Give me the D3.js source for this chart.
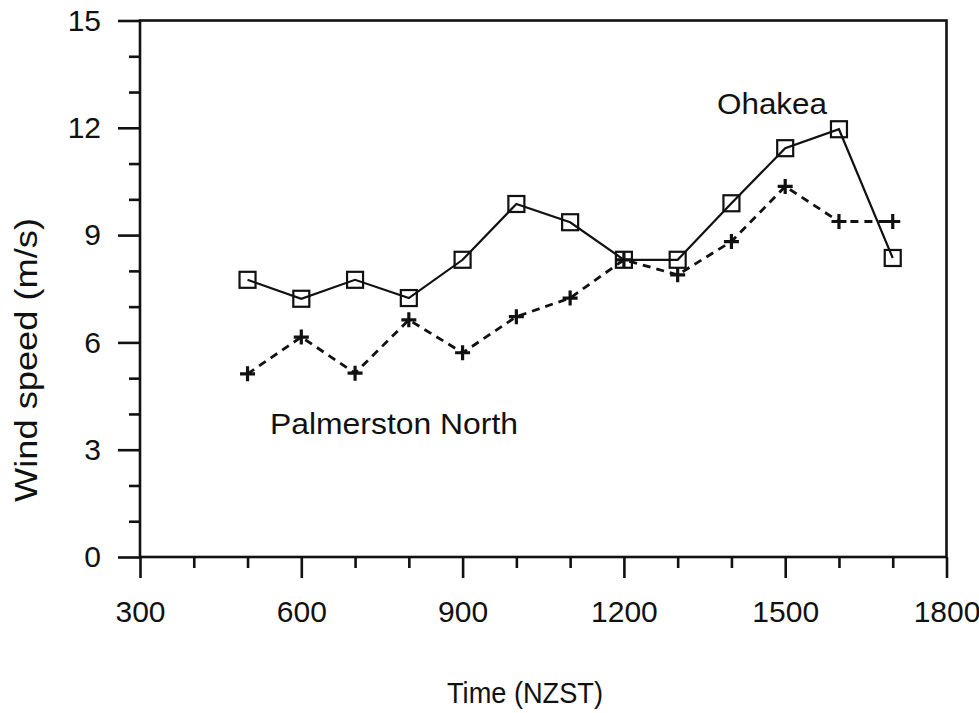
<!DOCTYPE html>
<html>
<head>
<meta charset="utf-8">
<script src="https://cdn.jsdelivr.net/npm/d3@7"></script>
<style>
  html, body { margin: 0; padding: 0; background: #fff; }
  svg { display: block; }
  text { font-family: "Liberation Sans", Arial, Helvetica, sans-serif; fill: #111; }
</style>
</head>
<body>
<svg id="chart" width="979" height="713"></svg>
<script>
// ---- data ----
const times = [500, 600, 700, 800, 900, 1000, 1100, 1200, 1300, 1400, 1500, 1600, 1700];
const ohakea = [7.75, 7.22, 7.75, 7.24, 8.31, 9.87, 9.36, 8.31, 8.31, 9.89, 11.43, 11.96, 8.36];
const palmerstonNorth = [5.12, 6.15, 5.14, 6.63, 5.71, 6.72, 7.24, 8.31, 7.89, 8.82, 10.36, 9.38, 9.38];
const xMajorTicks = [300, 600, 900, 1200, 1500, 1800];
const xMinorTicks = [400, 500, 700, 800, 1000, 1100, 1300, 1400, 1600, 1700];
const yMajorTicks = [0, 3, 6, 9, 12, 15];
const yMinorTicks = [1, 2, 4, 5, 7, 8, 10, 11, 13, 14];
const seriesLabels = ["Ohakea", "Palmerston North"];
const xTitle = "Time (NZST)";
const yTitle = "Wind speed (m/s)";

// ---- layout ----
const svg = d3.select("#chart");
const x = d3.scaleLinear().domain([300, 1800]).range([140, 946.5]);
const y = d3.scaleLinear().domain([0, 15]).range([557, 20.5]);
const axisW = 2.6;
const FONT = "Liberation Sans, Arial, sans-serif";

function styleAxis(g) {
  g.select(".domain").remove();
  g.selectAll(".tick line").attr("stroke", "#111").attr("stroke-width", axisW);
}

// minor ticks
svg.append("g").attr("transform", `translate(0,${y(0)})`)
  .call(d3.axisBottom(x).tickValues(xMinorTicks).tickSize(11).tickFormat(""))
  .call(styleAxis);
svg.append("g").attr("transform", `translate(${x(300)},0)`)
  .call(d3.axisLeft(y).tickValues(yMinorTicks).tickSize(11).tickFormat(""))
  .call(styleAxis);

// major ticks with labels
const gx = svg.append("g").attr("transform", `translate(0,${y(0)})`)
  .call(d3.axisBottom(x).tickValues(xMajorTicks).tickSize(21).tickPadding(23).tickFormat(d3.format("d")))
  .call(styleAxis);
gx.selectAll(".tick text").attr("font-size", 30).attr("dy", "0.71em").attr("fill", "#111").style("font-family", FONT);

const gy = svg.append("g").attr("transform", `translate(${x(300)},0)`)
  .call(d3.axisLeft(y).tickValues(yMajorTicks).tickSize(22).tickPadding(17).tickFormat(d3.format("d")))
  .call(styleAxis);
gy.selectAll(".tick text").attr("font-size", 30).attr("fill", "#111").style("font-family", FONT);

// frame
svg.append("rect")
  .attr("x", x(300)).attr("y", y(15))
  .attr("width", x(1800) - x(300)).attr("height", y(0) - y(15))
  .attr("fill", "none").attr("stroke", "#111").attr("stroke-width", axisW);

// lines
const line = d3.line().x((d, i) => x(times[i])).y(d => y(d));
svg.append("path").datum(ohakea).attr("d", line)
  .attr("fill", "none").attr("stroke", "#111").attr("stroke-width", 2.2);
svg.append("path").datum(palmerstonNorth).attr("d", line)
  .attr("fill", "none").attr("stroke", "#111").attr("stroke-width", 2.8)
  .attr("stroke-dasharray", "8,6");

// square markers
const sq = 16;
svg.append("g").selectAll("rect").data(ohakea).join("rect")
  .attr("x", (d, i) => x(times[i]) - sq / 2)
  .attr("y", d => y(d) - sq / 2)
  .attr("width", sq).attr("height", sq)
  .attr("fill", "none").attr("stroke", "#111").attr("stroke-width", 2.2);

// plus markers
const ph = 7.5;
svg.append("g").selectAll("path").data(palmerstonNorth).join("path")
  .attr("d", (d, i) => {
    const cx = x(times[i]), cy = y(d);
    return `M${cx - ph},${cy}H${cx + ph}M${cx},${cy - ph}V${cy + ph}`;
  })
  .attr("fill", "none").attr("stroke", "#111").attr("stroke-width", 3.2);

// series labels
svg.append("text").attr("x", 772).attr("y", 114).attr("text-anchor", "middle")
  .attr("font-size", 30).attr("textLength", 110).attr("lengthAdjust", "spacingAndGlyphs")
  .text(seriesLabels[0]);
svg.append("text").attr("x", 394).attr("y", 434).attr("text-anchor", "middle")
  .attr("font-size", 30).attr("textLength", 248).attr("lengthAdjust", "spacingAndGlyphs")
  .text(seriesLabels[1]);

// axis titles
svg.append("text").attr("x", 525).attr("y", 703).attr("text-anchor", "middle")
  .attr("font-size", 30).attr("textLength", 156).attr("lengthAdjust", "spacingAndGlyphs")
  .text(xTitle);
svg.append("text").attr("transform", "translate(37,360) rotate(-90)").attr("text-anchor", "middle")
  .attr("font-size", 31).attr("textLength", 284).attr("lengthAdjust", "spacingAndGlyphs")
  .text(yTitle);
</script>
</body>
</html>
